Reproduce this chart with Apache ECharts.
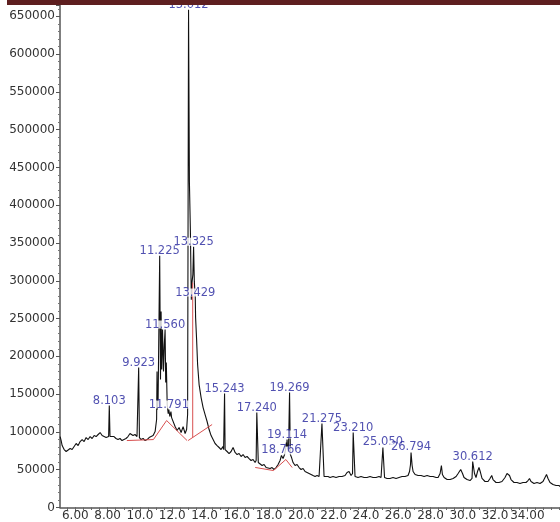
<!DOCTYPE html>
<html>
<head>
<meta charset="utf-8">
<script src="https://cdn.jsdelivr.net/npm/echarts@6.0.0/dist/echarts.min.js"></script>
<style>
  html, body { margin: 0; padding: 0; background: #fff; }
  #chart { width: 560px; height: 522px; }
</style>
</head>
<body>
<div id="chart"></div>
<script>
// Total ion chromatogram: retention time (min) vs. abundance
const retentionTime = [
  5.059, 5.121, 5.183, 5.307, 5.431, 5.554, 5.678, 5.802, 5.926, 6.050,
  6.173, 6.297, 6.421, 6.545, 6.669, 6.793, 6.916, 7.040, 7.164, 7.288,
  7.412, 7.536, 7.659, 7.783, 7.907, 8.000, 8.062, 8.103, 8.148, 8.271,
  8.395, 8.519, 8.643, 8.767, 8.891, 9.014, 9.138, 9.262, 9.386, 9.479,
  9.572, 9.696, 9.820, 9.923, 9.969, 10.074, 10.198, 10.322, 10.446, 10.570,
  10.693, 10.817, 10.941, 11.034, 11.060, 11.084, 11.127, 11.225, 11.275, 11.313,
  11.350, 11.400, 11.461, 11.511, 11.560, 11.597, 11.634, 11.690, 11.752, 11.791,
  11.853, 11.921, 11.963, 12.056, 12.179, 12.303, 12.427, 12.551, 12.675, 12.799,
  12.892, 12.954, 13.012, 13.065, 13.127, 13.183, 13.232, 13.280, 13.325, 13.370,
  13.429, 13.449, 13.511, 13.573, 13.666, 13.790, 13.914, 14.037, 14.161, 14.285,
  14.409, 14.533, 14.657, 14.781, 14.905, 15.028, 15.139, 15.183, 15.243, 15.276,
  15.400, 15.523, 15.647, 15.771, 15.895, 16.019, 16.143, 16.266, 16.390, 16.514,
  16.638, 16.762, 16.886, 17.010, 17.133, 17.200, 17.240, 17.332, 17.443, 17.567,
  17.691, 17.815, 17.938, 18.062, 18.186, 18.310, 18.434, 18.558, 18.681, 18.766,
  18.867, 18.960, 19.030, 19.070, 19.090, 19.114, 19.146, 19.202, 19.269, 19.319,
  19.393, 19.486, 19.610, 19.734, 19.858, 19.982, 20.106, 20.229, 20.353, 20.477,
  20.601, 20.725, 20.849, 20.973, 21.097, 21.220, 21.275, 21.406, 21.529, 21.653,
  21.777, 21.963, 22.149, 22.334, 22.520, 22.706, 22.830, 22.954, 23.078, 23.170,
  23.210, 23.325, 23.511, 23.697, 23.882, 24.068, 24.254, 24.440, 24.626, 24.811,
  24.935, 25.010, 25.050, 25.152, 25.307, 25.493, 25.679, 25.865, 26.050, 26.236,
  26.422, 26.608, 26.700, 26.760, 26.794, 26.860, 26.920, 27.045, 27.231, 27.417,
  27.603, 27.789, 27.974, 28.160, 28.346, 28.470, 28.594, 28.674, 28.736, 28.842,
  29.028, 29.213, 29.399, 29.585, 29.709, 29.870, 29.982, 30.075, 30.261, 30.447,
  30.571, 30.612, 30.724, 30.817, 30.910, 31.003, 31.096, 31.189, 31.375, 31.561,
  31.685, 31.790, 31.871, 32.056, 32.242, 32.428, 32.614, 32.738, 32.800, 32.893,
  32.985, 33.171, 33.357, 33.543, 33.729, 33.915, 34.039, 34.131, 34.224, 34.410,
  34.596, 34.782, 34.967, 35.091, 35.184, 35.277, 35.401, 35.587, 35.773, 35.959,
  36.020
];

const abundance = [
  93900, 88600, 82000, 76700, 74100, 75400, 78000, 76700, 80700, 84700,
  82000, 87300, 89900, 87300, 92600, 89900, 93900, 91300, 95200, 93900,
  96600, 99200, 95200, 93900, 92600, 95200, 93900, 134900, 93900, 92600,
  93900, 91300, 89900, 91300, 88600, 89900, 91300, 93900, 97900, 100500,
  95200, 96600, 93900, 185200, 92600, 89900, 91300, 88600, 89900, 92600,
  93900, 95200, 100500, 116400, 179900, 129600, 142900, 333300, 169300, 259300,
  182500, 235500, 179900, 215600, 235500, 165300, 191800, 136200, 124300, 129600,
  120400, 127000, 119000, 116400, 107100, 101900, 105800, 99200, 107100, 97900,
  103200, 123000, 658700, 431200, 365100, 275100, 298900, 308200, 345000, 298900,
  277800, 251300, 222200, 189200, 162700, 145500, 132300, 123000, 113800, 103200,
  95200, 89900, 84700, 82000, 79400, 76700, 80700, 76700, 150800, 76700,
  74100, 71400, 74100, 79400, 72800, 70100, 71400, 67500, 70100, 66100,
  67500, 64800, 62200, 63500, 59500, 62200, 125700, 59500, 56900, 55600,
  56900, 52900, 54200, 51600, 52900, 50300, 52900, 56900, 62200, 68800,
  64800, 70100, 78000, 86000, 80000, 89900, 79400, 74100, 152100, 70100,
  66100, 59500, 55600, 56900, 52900, 50300, 51600, 47600, 46300, 45000,
  43700, 42300, 41000, 42300, 41000, 42300, 111100, 41000, 39700, 41000,
  39700, 41000, 39700, 41000, 41000, 42300, 46300, 47600, 42300, 45000,
  99200, 41000, 39700, 41000, 39700, 39700, 41000, 39700, 39700, 41000,
  39700, 42300, 79400, 39700, 38400, 38400, 39700, 38400, 39700, 41000,
  41000, 42300, 47600, 56900, 72800, 55600, 47600, 43700, 42300, 42300,
  41000, 42300, 41000, 41000, 39700, 39700, 45000, 55600, 43700, 39700,
  37000, 37000, 38400, 41000, 45000, 50300, 45000, 39700, 37000, 35700,
  38400, 60800, 45000, 39700, 47600, 52900, 46300, 38400, 34400, 34400,
  38400, 42300, 37000, 33100, 33100, 34400, 39700, 45000, 47600, 42300,
  37000, 33100, 33100, 31700, 33100, 33100, 35700, 38400, 34400, 31700,
  33100, 31700, 34400, 39700, 43700, 38400, 33100, 30400, 29100, 29100,
  27800
];

// Integrated peaks (retention time, min)
const peakTimes = [
  8.103, 9.923, 11.225, 11.560, 11.791, 13.012, 13.325, 13.429, 15.243,
  17.240, 18.766, 19.114, 19.269, 21.275, 23.210, 25.050, 26.794, 30.612
];

// Integration baselines and drop lines (null breaks a segment)
const baselineTime = [9.189, 10.836, 11.653, 12.923, null, 12.985, 14.472, null, 13.270, 13.270, null, 17.140, 18.270, 19.040, 19.430];
const baselineAbundance = [88600, 89900, 115100, 88600, null, 88600, 109800, null, 297600, 92700, null, 53000, 48900, 63500, 52900];

// Axis ticks
const timeTicks = [6, 8, 10, 12, 14, 16, 18, 20, 22, 24, 26, 28, 30, 32, 34];
const abundanceTicks = [0, 50000, 100000, 150000, 200000, 250000, 300000, 350000, 400000, 450000, 500000, 550000, 600000, 650000];

const tMin = 5.05, tMax = 36.02, aMax = 665000;

const minorTimeTicks = [];
for (let v = 5.5; v <= tMax; v += 0.5) minorTimeTicks.push(+v.toFixed(1));

const trace = retentionTime.map((t, i) => [t, abundance[i]]);
const baseline = baselineTime.map((t, i) => (t === null ? [null, null] : [t, baselineAbundance[i]]));
const peaks = peakTimes.map(t => {
  const i = retentionTime.indexOf(t);
  return { value: [t, abundance[i]], name: t.toFixed(3) };
});

// Time labels are packed tightly: the wide ones run into their neighbour,
// so only the last one keeps all of its digits.
const lastTick = timeTicks[timeTicks.length - 1];
const timeLabel = v => {
  const s = v.toFixed(2);
  return (s.length > 4 && v !== lastTick) ? s.slice(0, 4) : s;
};

const axisFont = 'DejaVu Sans';
const chart = echarts.init(document.getElementById('chart'), null, { renderer: 'canvas' });

chart.setOption({
  animation: false,
  backgroundColor: '#fff',
  grid: { left: 60, right: 0, top: 5, bottom: 14, containLabel: false },
  xAxis: [
    {
      type: 'value', min: tMin, max: tMax,
      axisLine: { show: true, lineStyle: { color: '#555', width: 1.5 } },
      axisTick: { show: true, customValues: timeTicks, length: 4, lineStyle: { color: '#555' } },
      axisLabel: {
        show: true, customValues: timeTicks, showMaxLabel: true, showMinLabel: true,
        formatter: timeLabel,
        fontFamily: axisFont, fontSize: 12, color: '#333', margin: 3, lineHeight: 11
      },
      splitLine: { show: false }
    },
    {
      type: 'value', min: tMin, max: tMax, position: 'bottom',
      axisLine: { show: false },
      axisTick: { show: true, customValues: minorTimeTicks, length: 2.5, lineStyle: { color: '#666' } },
      axisLabel: { show: false },
      splitLine: { show: false }
    }
  ],
  yAxis: {
    type: 'value', min: 0, max: aMax, interval: 50000,
    axisLine: { show: true, lineStyle: { color: '#555', width: 1.5 } },
    axisTick: { show: true, length: 4, lineStyle: { color: '#555' } },
    minorTick: { show: true, splitNumber: 5, length: 2, lineStyle: { color: '#777' } },
    axisLabel: {
      formatter: v => (abundanceTicks.indexOf(v) >= 0 ? String(v) : ''),
      fontFamily: axisFont, fontSize: 12, color: '#333', margin: 5
    },
    splitLine: { show: false }
  },
  series: [
    {
      type: 'line', data: trace, symbol: 'none', z: 2,
      lineStyle: { color: '#111', width: 1.1 }
    },
    {
      type: 'line', data: baseline, symbol: 'none', z: 3, connectNulls: false,
      lineStyle: { color: '#d85050', width: 1 }
    },
    {
      type: 'scatter', data: peaks, symbolSize: 0, z: 5,
      label: {
        show: true, position: 'top', distance: 1,
        formatter: p => p.name,
        fontFamily: axisFont, fontSize: 11.5, lineHeight: 8, color: '#26269e',
        backgroundColor: '#fff', padding: [0, 1, 0, 1]
      }
    }
  ],
  graphic: [
    {
      type: 'rect', left: 7, top: 0, z: 100,
      shape: { width: 553, height: 5 },
      style: { fill: '#5e1f20' }
    }
  ]
});
</script>
</body>
</html>
